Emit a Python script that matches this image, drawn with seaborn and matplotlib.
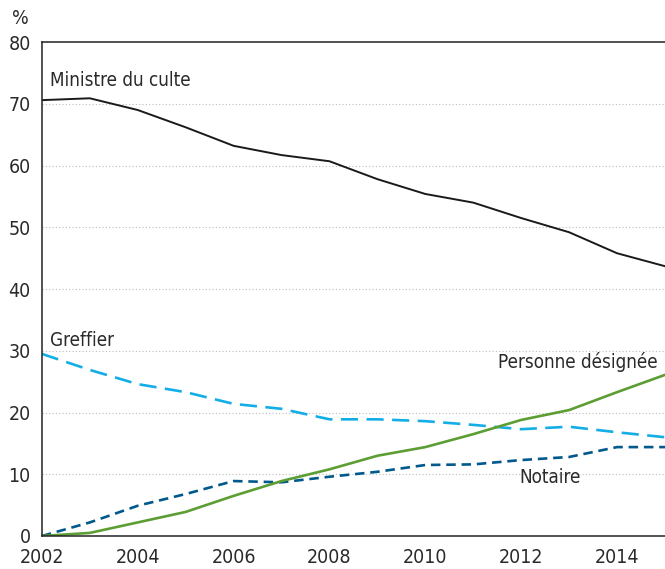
import pandas as pd
import matplotlib.pyplot as plt
import seaborn as sns

# values (%)
years = list(range(2002, 2016))
ministre = [70.6, 70.9, 69.0, 66.2, 63.2, 61.7, 60.7, 57.8, 55.4, 54.0, 51.5, 49.2, 45.8, 43.7]
greffier = [29.5, 26.9, 24.6, 23.3, 21.4, 20.6, 18.9, 18.9, 18.6, 18.0, 17.3, 17.7, 16.8, 16.0]
notaire = [0.0, 2.2, 4.9, 6.8, 8.9, 8.7, 9.6, 10.4, 11.5, 11.6, 12.3, 12.8, 14.4, 14.4]
personne = [0.0, 0.5, 2.2, 3.9, 6.5, 8.9, 10.8, 13.0, 14.4, 16.5, 18.8, 20.4, 23.3, 26.1]

series = {
    "Ministre du culte": ministre,
    "Greffier": greffier,
    "Notaire": notaire,
    "Personne désignée": personne,
}
df = pd.concat(
    [pd.DataFrame({"year": years, "pct": v, "officiant": k}) for k, v in series.items()],
    ignore_index=True,
)

palette = {
    "Ministre du culte": "#1a1a1a",
    "Greffier": "#13aee6",
    "Notaire": "#00598c",
    "Personne désignée": "#5c9e33",
}
dashes = {
    "Ministre du culte": "",
    "Greffier": (6.5, 3.2),
    "Notaire": (3.6, 2.2),
    "Personne désignée": "",
}
widths = {"Ministre du culte": 1.4, "Greffier": 1.9, "Notaire": 1.9, "Personne désignée": 1.9}

sns.set_style("white")
plt.rcParams["font.family"] = ["DejaVu Sans"]
plt.rcParams["font.stretch"] = "condensed"

fig = plt.figure(figsize=(6.65, 5.69), dpi=100)
ax = fig.add_axes([0.063, 0.058, 0.937, 0.868])

sns.lineplot(data=df, x="year", y="pct", hue="officiant", style="officiant",
             palette=palette, dashes=dashes, legend=False, ax=ax)
for line, name in zip(ax.get_lines(), series.keys()):
    line.set_linewidth(widths[name])

ax.set_xlim(2002, 2015)
ax.set_ylim(0, 80)
ax.set_xticks(range(2002, 2016, 2))
ax.set_xticks(range(2003, 2016, 2), minor=True)
ax.set_yticks(range(0, 81, 10))
for y in range(10, 80, 10):
    ax.axhline(y, color="#bbbbbb", linestyle=(0, (1, 2)), linewidth=0.8, zorder=0)

ax.set_xlabel("")
ax.set_ylabel("")
ax.tick_params(axis="both", which="both", direction="out", length=5, width=1,
               color="#222222", labelsize=14, labelcolor="#2a2a2a")
ax.tick_params(axis="y", pad=3)
ax.tick_params(axis="x", pad=4)
for side in ["left", "bottom", "top"]:
    ax.spines[side].set_color("#222222")
    ax.spines[side].set_linewidth(1.1)
ax.spines["right"].set_visible(False)

txt = dict(fontsize=13.5, color="#2a2a2a", va="center")
ax.text(2002.17, 73.8, "Ministre du culte", **txt)
ax.text(2002.17, 31.7, "Greffier", **txt)
ax.text(2014.85, 28.2, "Personne désignée", ha="right", **txt)
ax.text(2011.96, 9.4, "Notaire", **txt)
fig.text(0.018, 0.968, "%", fontsize=14, color="#2a2a2a", va="center")

fig.savefig("out.png", dpi=100)
